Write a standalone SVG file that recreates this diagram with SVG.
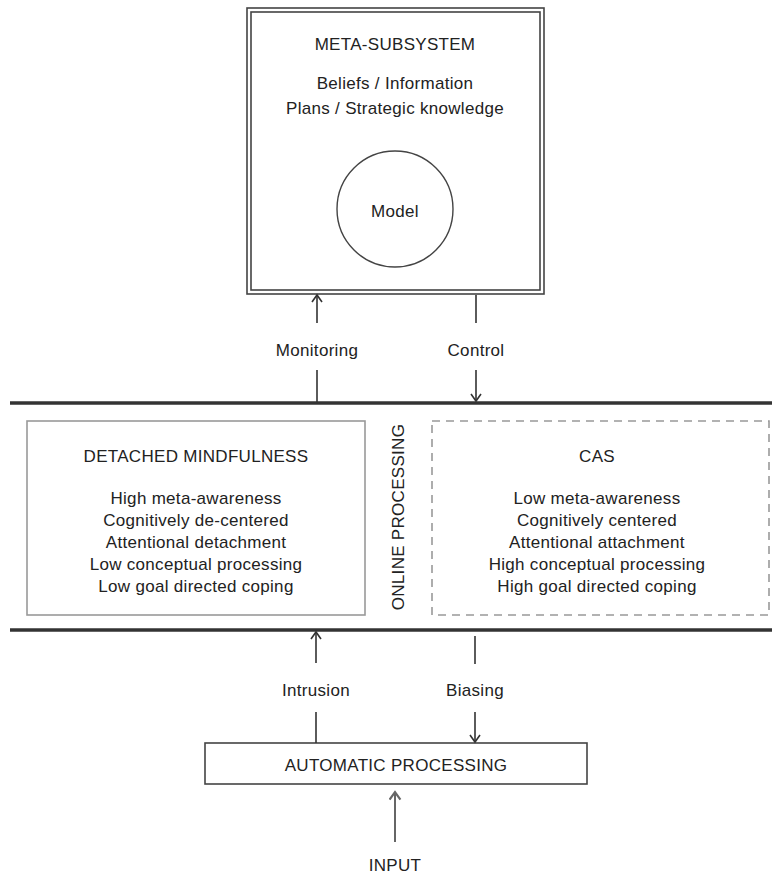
<svg xmlns="http://www.w3.org/2000/svg" width="772" height="874" viewBox="0 0 772 874">
<defs>
<style>
text{font-family:"Liberation Sans",Arial,sans-serif;fill:#222;text-anchor:middle;dominant-baseline:central;font-size:17px;letter-spacing:0.3px}
.ln{stroke:#333;stroke-width:1.6;fill:none}
.bar{stroke:#333;stroke-width:3.4;fill:none}
</style>
<marker id="ah" viewBox="0 0 12 12" refX="10" refY="6" markerWidth="12" markerHeight="12" markerUnits="userSpaceOnUse" orient="auto">
<path d="M3,1 L10,6 L3,11" fill="none" stroke="#333" stroke-width="1.6"/>
</marker>
<marker id="ahg" viewBox="0 0 12 12" refX="10" refY="6" markerWidth="13" markerHeight="13" markerUnits="userSpaceOnUse" orient="auto">
<path d="M3,1 L10,6 L3,11" fill="none" stroke="#666" stroke-width="2"/>
</marker>
</defs>
<rect width="772" height="874" fill="#fff"/>

<g id="meta-subsystem">
<rect x="247" y="8" width="297" height="286" fill="#fff" stroke="#444" stroke-width="1.6"/>
<rect x="251" y="12" width="289" height="278" fill="none" stroke="#444" stroke-width="1.6"/>
<text x="395" y="44">META-SUBSYSTEM</text>
<text x="395" y="83">Beliefs / Information</text>
<text x="395" y="108">Plans / Strategic knowledge</text>
</g>
<g id="model">
<circle cx="395" cy="209" r="58" fill="none" stroke="#444" stroke-width="1.4"/>
<text x="395" y="211">Model</text>
</g>

<g id="bars">
<line class="bar" x1="10" y1="403" x2="772" y2="403"/>
<line class="bar" x1="10" y1="630" x2="772" y2="630"/>
</g>

<g id="detached-mindfulness">
<rect x="27" y="421" width="338" height="194" fill="none" stroke="#999" stroke-width="1.6"/>
<text x="196" y="456">DETACHED MINDFULNESS</text>
<text x="196" y="498">High meta-awareness</text>
<text x="196" y="520">Cognitively de-centered</text>
<text x="196" y="542">Attentional detachment</text>
<text x="196" y="564">Low conceptual processing</text>
<text x="196" y="586">Low goal directed coping</text>
</g>

<g id="online-processing">
<text x="398" y="517" transform="rotate(-90 398 517)">ONLINE PROCESSING</text>
</g>

<g id="cas">
<rect x="432" y="421" width="337" height="194" fill="none" stroke="#999" stroke-width="1.6" stroke-dasharray="8,6"/>
<text x="597" y="456">CAS</text>
<text x="597" y="498">Low meta-awareness</text>
<text x="597" y="520">Cognitively centered</text>
<text x="597" y="542">Attentional attachment</text>
<text x="597" y="564">High conceptual processing</text>
<text x="597" y="586">High goal directed coping</text>
</g>

<g id="automatic-processing">
<rect x="205" y="743" width="382" height="41" fill="#fff" stroke="#444" stroke-width="1.6"/>
<text x="396" y="765">AUTOMATIC PROCESSING</text>
</g>

<g id="input">
<text x="395" y="865">INPUT</text>
</g>

<g id="connectors">
<line class="ln" x1="317" y1="323" x2="317" y2="295" marker-end="url(#ah)"/>
<line class="ln" x1="317" y1="370" x2="317" y2="402"/>
<text x="317" y="350">Monitoring</text>
<line class="ln" x1="476" y1="295" x2="476" y2="323"/>
<line class="ln" x1="476" y1="370" x2="476" y2="401" marker-end="url(#ah)"/>
<text x="476" y="350">Control</text>
<line class="ln" x1="316" y1="663" x2="316" y2="632" marker-end="url(#ah)"/>
<line class="ln" x1="316" y1="712" x2="316" y2="743"/>
<text x="316" y="690">Intrusion</text>
<line class="ln" x1="475" y1="636" x2="475" y2="664"/>
<line class="ln" x1="475" y1="712" x2="475" y2="742" marker-end="url(#ah)"/>
<text x="475" y="690">Biasing</text>
<line x1="395" y1="842" x2="395" y2="792" stroke="#666" stroke-width="2" marker-end="url(#ahg)"/>
</g>
</svg>
